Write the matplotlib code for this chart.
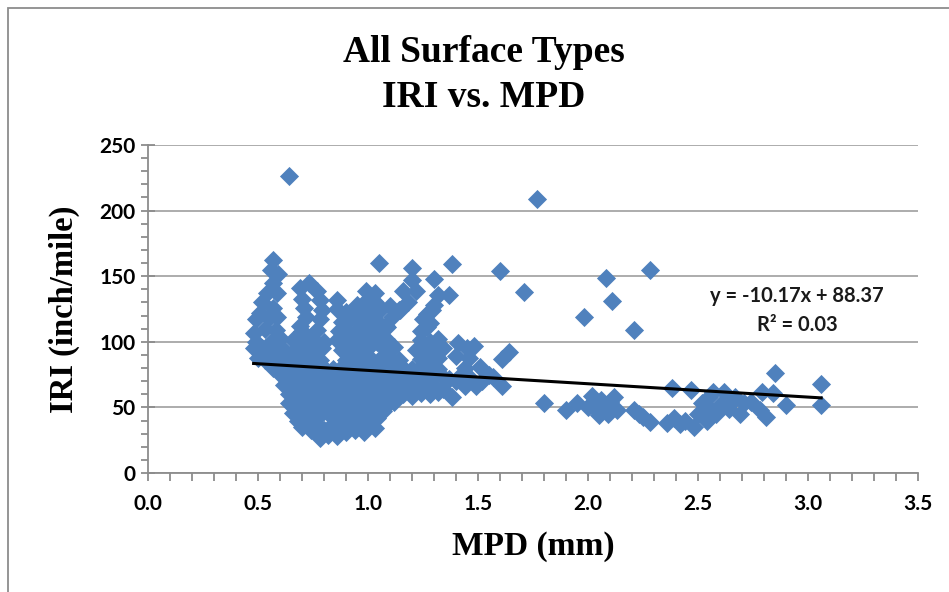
import matplotlib.pyplot as plt
import matplotlib.patches as mpatches
from matplotlib.ticker import MultipleLocator
import numpy as np

# ---- data (MPD in mm, IRI in inch/mile) ----
# upper spikes and isolated high points
top_pts = [(0.64, 226), (1.77, 209), (0.57, 162), (0.56, 155), (0.59, 152), (0.57, 145),
           (1.05, 160), (1.20, 156), (1.38, 159), (1.60, 154), (1.30, 148), (1.20, 147),
           (1.22, 139), (1.32, 136), (1.37, 136), (0.73, 145), (0.69, 141), (0.77, 139),
           (0.99, 139), (1.03, 137), (1.16, 139), (1.71, 138), (2.08, 149), (2.11, 131),
           (1.98, 119), (2.21, 109), (2.28, 155)]

# left column and C-shaped column
cols_pts = [(0.54, 137), (0.585, 137), (0.52, 130), (0.57, 126), (0.51, 122), (0.585, 119),
            (0.49, 117), (0.55, 118), (0.58, 109), (0.48, 107), (0.53, 110), (0.60, 103),
            (0.49, 100), (0.56, 100), (0.70, 133), (0.78, 132), (0.71, 126), (0.79, 124),
            (0.72, 119), (0.78, 117), (0.70, 108), (0.77, 109), (0.74, 104), (0.69, 112)]

# middle spikes between 0.85 and 1.35 mm
mid_pts = [(0.86, 132), (0.95, 128), (0.99, 131), (1.03, 130), (1.10, 127), (1.18, 130),
           (1.30, 128), (0.86, 125), (0.90, 123), (0.94, 122), (0.98, 124), (1.02, 121),
           (1.06, 125), (1.14, 124), (1.27, 121), (1.29, 124), (0.88, 115), (0.92, 117),
           (0.96, 116), (1.00, 114), (1.04, 116), (1.08, 112), (1.11, 119), (1.25, 117),
           (1.28, 114), (0.87, 108), (0.91, 107), (0.95, 109), (0.99, 108), (1.03, 107),
           (1.07, 104), (1.24, 108), (1.27, 111), (1.145, 124), (1.085, 111)]

# dense body of the cloud
body_pts = [(0.66, 101), (0.70, 102), (0.74, 100), (0.80, 100), (0.86, 101), (0.90, 102),
            (0.94, 100), (0.98, 101), (1.04, 100), (1.08, 102), (1.24, 101), (1.28, 100),
            (1.32, 102),
            (0.48, 95), (0.52, 95), (0.55, 92), (0.61, 95), (0.63, 90), (0.67, 94), (0.71, 95),
            (0.75, 93), (0.79, 95), (0.88, 94), (0.92, 95), (0.96, 93), (1.00, 95), (1.08, 94),
            (1.12, 96), (1.22, 94), (1.26, 95), (1.30, 93), (1.34, 95), (1.41, 99), (1.45, 95),
            (0.50, 88), (0.53, 86), (0.58, 88), (0.62, 87), (0.66, 86), (0.70, 88), (0.74, 87),
            (0.78, 86), (0.90, 86), (0.94, 88), (0.98, 87), (1.02, 86), (1.06, 88), (1.10, 87),
            (1.14, 86), (1.24, 87), (1.28, 86), (1.32, 88), (1.40, 89), (1.46, 88),
            (0.57, 80), (0.60, 79), (0.64, 81), (0.68, 80), (0.72, 79), (0.76, 81), (0.80, 80),
            (0.84, 79), (0.88, 81), (0.92, 80), (0.96, 79), (1.00, 81), (1.04, 80), (1.08, 79),
            (1.12, 81), (1.16, 80), (1.20, 79), (1.24, 81), (1.28, 80), (1.32, 79), (1.44, 80),
            (0.61, 74), (0.65, 72), (0.69, 73), (0.73, 74), (0.77, 72), (0.81, 73), (0.85, 74),
            (0.89, 72), (0.93, 73), (0.97, 74), (1.01, 72), (1.05, 73), (1.09, 74), (1.13, 72),
            (1.17, 73), (1.21, 74), (1.25, 72), (1.29, 73), (1.33, 75), (1.37, 72), (1.42, 74),
            (1.47, 72),
            (0.62, 67), (0.66, 65), (0.70, 66), (0.74, 67), (0.78, 65), (0.82, 66), (0.86, 67),
            (0.90, 65), (0.94, 66), (0.98, 67), (1.02, 65), (1.06, 66), (1.10, 67), (1.14, 65),
            (1.18, 66), (1.22, 67), (1.26, 65), (1.30, 66), (1.34, 64), (1.40, 70), (1.44, 66),
            (0.64, 60), (0.68, 58), (0.72, 59), (0.76, 60), (0.80, 58), (0.84, 60), (0.88, 59),
            (0.92, 58), (0.96, 60), (1.00, 59), (1.04, 58), (1.08, 60), (1.12, 58), (1.16, 60),
            (1.20, 59), (1.24, 61), (1.28, 60), (1.32, 62), (1.38, 58),
            (0.64, 53), (0.68, 52), (0.72, 53), (0.76, 51), (0.80, 53), (0.84, 51), (0.88, 53),
            (0.92, 52), (0.96, 51), (1.00, 53), (1.04, 52), (1.08, 51), (1.12, 54),
            (0.66, 46), (0.70, 45), (0.74, 47), (0.78, 44), (0.82, 46), (0.86, 44), (0.90, 46),
            (0.94, 44), (0.98, 47), (1.02, 45), (1.07, 47),
            (0.68, 40), (0.72, 40), (0.76, 38), (0.84, 37), (0.88, 38), (0.92, 39), (0.96, 37),
            (1.00, 39), (1.04, 42),
            (0.70, 35), (0.74, 33), (0.80, 33), (0.90, 31), (0.94, 33), (0.98, 31), (1.03, 34),
            (0.78, 27), (0.82, 29), (0.86, 28)]

# points between 1.45 and 1.65 mm
gap_pts = [(1.48, 97), (1.64, 92), (1.61, 87), (1.51, 81), (1.57, 73), (1.61, 66),
           (1.49, 66), (1.55, 75), (1.52, 70)]

# right-hand tail
tail_pts = [(1.80, 53), (1.90, 48), (1.95, 53), (2.02, 59), (2.02, 53), (2.04, 48),
            (2.06, 56), (2.07, 50), (2.09, 45), (2.10, 54), (2.12, 58), (2.13, 48),
            (2.05, 44), (2.00, 50), (2.21, 48), (2.25, 43), (2.28, 39), (2.23, 45),
            (2.38, 65), (2.36, 38), (2.39, 42), (2.42, 37), (2.48, 35), (2.47, 63),
            (2.44, 40), (2.54, 40), (2.58, 45), (2.64, 49), (2.71, 53), (2.52, 53),
            (2.55, 58), (2.57, 62), (2.62, 62), (2.67, 58), (2.74, 54), (2.78, 48),
            (2.81, 43), (2.79, 62), (2.84, 61), (2.90, 52), (2.85, 76), (3.06, 68),
            (3.06, 52), (2.50, 45), (2.60, 52), (2.66, 55), (2.69, 45), (2.56, 48)]

# Excel linear trendline shown on the chart
slope = -10.17
intercept = 88.37
r_squared = 0.03

# ---- assemble ----
all_pts = top_pts + cols_pts + mid_pts + body_pts + gap_pts + tail_pts
mpd = np.array([p[0] for p in all_pts])
iri = np.array([p[1] for p in all_pts])

fig = plt.figure(figsize=(9.49, 5.92), dpi=100)
ax = fig.add_axes([148 / 949, 1 - 473 / 592, (918 - 148) / 949, (473 - 145) / 592])

blue = '#4F81BD'
grid_gray = '#A6A6A6'

ax.scatter(mpd, iri, marker='D', s=95, color=blue, linewidths=0, zorder=3)

# trendline across the data range
x_line = np.array([mpd.min(), mpd.max()])
ax.plot(x_line, slope * x_line + intercept, color='black', linewidth=2.2, zorder=4)

ax.text(2.95, 135, f'y = {slope:.2f}x + {intercept:.2f}', ha='center', va='center',
        fontsize=14.5, fontweight='bold', family='Lato', color='#1a1a1a')
ax.text(2.95, 113, f'R² = {r_squared:.2f}', ha='center', va='center',
        fontsize=14.5, fontweight='bold', family='Lato', color='#1a1a1a')

ax.set_xlim(0, 3.5)
ax.set_ylim(0, 250)
ax.xaxis.set_major_locator(MultipleLocator(0.5))
ax.xaxis.set_minor_locator(MultipleLocator(0.1))
ax.yaxis.set_major_locator(MultipleLocator(50))
ax.yaxis.set_minor_locator(MultipleLocator(10))
ax.set_xticks(np.arange(0, 3.51, 0.5))
ax.set_xticklabels([f'{v:.1f}' for v in np.arange(0, 3.51, 0.5)])

ax.grid(axis='y', which='major', color=grid_gray, linewidth=1.3, zorder=0)
ax.set_axisbelow(True)

for side in ['top', 'right']:
    ax.spines[side].set_visible(False)
for side in ['left', 'bottom']:
    ax.spines[side].set_color('#8C8C8C')
    ax.spines[side].set_linewidth(1.3)

ax.tick_params(axis='y', which='major', direction='inout', length=10, width=1.3,
               color='#8C8C8C', labelsize=15, pad=4)
ax.tick_params(axis='y', which='minor', direction='out', length=5, width=1.3, color='#8C8C8C')
ax.tick_params(axis='x', which='major', direction='out', length=6, width=1.3,
               color='#8C8C8C', labelsize=15, pad=9)
ax.tick_params(axis='x', which='minor', direction='out', length=6, width=1.3, color='#8C8C8C')
for lab in ax.get_xticklabels() + ax.get_yticklabels():
    lab.set_fontweight('bold')
    lab.set_family('Lato')

ax.set_xlabel('MPD (mm)', fontsize=24, fontweight='bold', family='Liberation Serif', labelpad=12)
ax.set_ylabel('IRI (inch/mile)', fontsize=23.5, fontweight='bold', family='Liberation Serif', labelpad=14)

fig.text(0.51, 0.912, 'All Surface Types', ha='center', va='center', fontsize=27,
         fontweight='bold', family='Liberation Serif')
fig.text(0.51, 0.836, 'IRI vs. MPD', ha='center', va='center', fontsize=27,
         fontweight='bold', family='Liberation Serif')

# chart-area border (cropped at right and bottom in the reference)
fig.add_artist(mpatches.Rectangle((8 / 949, -0.1), 1.2, 1.1 - 8 / 592, fill=False,
                                  edgecolor='#8C8C8C', linewidth=1.3,
                                  transform=fig.transFigure))

fig.savefig('out.png', dpi=100)
